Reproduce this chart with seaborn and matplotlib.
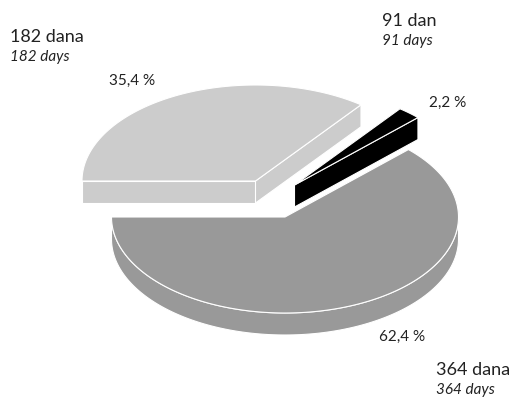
import numpy as np
import matplotlib
matplotlib.use('Agg')
import matplotlib.pyplot as plt
import seaborn as sns

# Share of each maturity, in the order drawn clockwise from the left edge
maturities = ['182 dana', '91 dan', '364 dana']
maturities_en = ['182 days', '91 days', '364 days']
shares = [35.4, 2.2, 62.4]
share_labels = ['35,4 %', '2,2 %', '62,4 %']

sns.set_theme(style='white')
plt.rcParams['font.family'] = ['Lato', 'DejaVu Sans']
colors = sns.color_palette(['#cccccc', '#000000', '#999999'])

# Pie shape in pixels
RX, RY, DEPTH = 173.5, 96, 22
centers = [(255.5, 181), (294.5, 185), (285, 217)]
name_pos = [(10, 37), (382, 21), (436, 370)]
pct_pos = [(109, 81), (429, 103), (379, 337)]


def ellipse(cx, cy, angles):
    return cx + RX * np.cos(angles), cy - RY * np.sin(angles)


def draw_slice(ax, center, a0, a1, color):
    cx, cy = center
    t = np.linspace(a0, a1, 200)
    x, y = ellipse(cx, cy, t)
    style = dict(facecolor=color, edgecolor='white', linewidth=0.8, joinstyle='round')
    # cut faces, pushed down by the slice depth
    for end_x, end_y in [(x[0], y[0]), (x[-1], y[-1])]:
        ax.fill([cx, end_x, end_x, cx], [cy, end_y, end_y + DEPTH, cy + DEPTH], **style)
    # outer rim, only the part facing the viewer
    front = np.sin(t) <= 0
    if front.sum() > 1:
        ax.fill(np.r_[x[front], x[front][::-1]],
                np.r_[y[front], y[front][::-1] + DEPTH], **style)
    # top face
    ax.fill(np.r_[cx, x], np.r_[cy, y], **style)


fig = plt.figure(figsize=(5.11, 4.0), dpi=100)
ax = fig.add_axes([0, 0, 1, 1])
ax.set_xlim(0, 511)
ax.set_ylim(400, 0)
ax.set_axis_off()

start = np.pi
for share, center, color in zip(shares, centers, colors):
    end = start - 2 * np.pi * share / 100
    draw_slice(ax, center, start, end, color)
    start = end

for name, name_en, (x, y) in zip(maturities, maturities_en, name_pos):
    ax.text(x, y, name, fontsize=13, color='#222222', va='center')
    ax.text(x, y + 20, name_en, fontsize=11, style='italic', color='#222222', va='center')

for label, (x, y) in zip(share_labels, pct_pos):
    ax.text(x, y, label, fontsize=11, color='#222222', va='center')

fig.savefig('out.png', dpi=100)
